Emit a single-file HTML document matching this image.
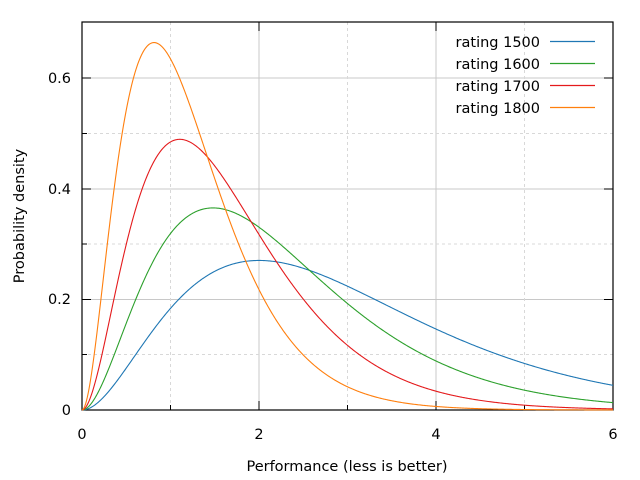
<!DOCTYPE html>
<html><head><meta charset="utf-8"><style>
html,body{margin:0;padding:0;background:#fff;}
svg{display:block;font-family:"DejaVu Sans","Liberation Sans",sans-serif;}
</style></head><body>
<svg id="s" width="640" height="480" xmlns="http://www.w3.org/2000/svg">
<g stroke="#c8c8c8" stroke-width="1">
<line x1="259" y1="22" x2="259" y2="410"/><line x1="436" y1="22" x2="436" y2="410"/>
<line x1="82" y1="299.5" x2="613" y2="299.5"/><line x1="82" y1="189" x2="613" y2="189"/><line x1="82" y1="78" x2="613" y2="78"/>
</g>
<g stroke="#d8d8d8" stroke-width="1" stroke-dasharray="3,3">
<line x1="170.5" y1="22" x2="170.5" y2="410"/><line x1="347.5" y1="22" x2="347.5" y2="410"/><line x1="524.5" y1="22" x2="524.5" y2="410"/>
<line x1="82" y1="354.5" x2="613" y2="354.5"/><line x1="82" y1="244" x2="613" y2="244"/><line x1="82" y1="133.5" x2="613" y2="133.5"/>
</g>
<rect x="82" y="22" width="531" height="388" fill="none" stroke="#000" stroke-width="1.2"/>
<g stroke="#000" stroke-width="1">
<line x1="259" y1="410" x2="259" y2="401"/><line x1="436" y1="410" x2="436" y2="401"/>
<line x1="259" y1="22" x2="259" y2="31"/><line x1="436" y1="22" x2="436" y2="31"/>
<line x1="170.5" y1="410" x2="170.5" y2="405"/><line x1="347.5" y1="410" x2="347.5" y2="405"/><line x1="524.5" y1="410" x2="524.5" y2="405"/>
<line x1="82" y1="299.5" x2="91" y2="299.5"/><line x1="82" y1="189" x2="91" y2="189"/><line x1="82" y1="78" x2="91" y2="78"/>
<line x1="613" y1="299.5" x2="604" y2="299.5"/><line x1="613" y1="189" x2="604" y2="189"/><line x1="613" y1="78" x2="604" y2="78"/>
<line x1="82" y1="354.5" x2="87" y2="354.5"/><line x1="82" y1="244" x2="87" y2="244"/><line x1="82" y1="133.5" x2="87" y2="133.5"/>
</g>
<g font-size="14.5" fill="#000">
<text x="82" y="439" text-anchor="middle">0</text>
<text x="259" y="439" text-anchor="middle">2</text>
<text x="436" y="439" text-anchor="middle">4</text>
<text x="613" y="439" text-anchor="middle">6</text>
<text x="71" y="415" text-anchor="end">0</text>
<text x="71" y="304" text-anchor="end">0.2</text>
<text x="71" y="194" text-anchor="end">0.4</text>
<text x="71" y="83" text-anchor="end">0.6</text>
<text x="347" y="471" text-anchor="middle">Performance (less is better)</text>
<text transform="translate(24,216) rotate(-90)" text-anchor="middle">Probability density</text>
<text x="540" y="47" text-anchor="end">rating 1500</text>
<text x="540" y="69" text-anchor="end">rating 1600</text>
<text x="540" y="91" text-anchor="end">rating 1700</text>
<text x="540" y="113" text-anchor="end">rating 1800</text>
</g>
<g stroke-width="1.2">
<line x1="550" y1="41.5" x2="595" y2="41.5" stroke="#1f77b4"/>
<line x1="550" y1="63.5" x2="595" y2="63.5" stroke="#2ca02c"/>
<line x1="550" y1="85.5" x2="595" y2="85.5" stroke="#e41a1c"/>
<line x1="550" y1="107.5" x2="595" y2="107.5" stroke="#ff7f0e"/>
</g>
<g id="c" fill="none" stroke-width="1.1"></g>
</svg>
<script>
var cols=["#1f77b4","#2ca02c","#e41a1c","#ff7f0e"],th=[1,0.74,0.5525,0.407],g=document.getElementById("c");
for(var k=0;k<4;k++){var t=th[k],d="";for(var i=0;i<=600;i++){var x=i*0.01,y=x*x*Math.exp(-x/t)/(2*t*t*t);
d+=(i?"L":"M")+(82+x*88.5).toFixed(2)+","+(410-y*552.5).toFixed(2);}
var p=document.createElementNS("http://www.w3.org/2000/svg","path");p.setAttribute("d",d);p.setAttribute("stroke",cols[k]);g.appendChild(p);}
</script>
</body></html>
